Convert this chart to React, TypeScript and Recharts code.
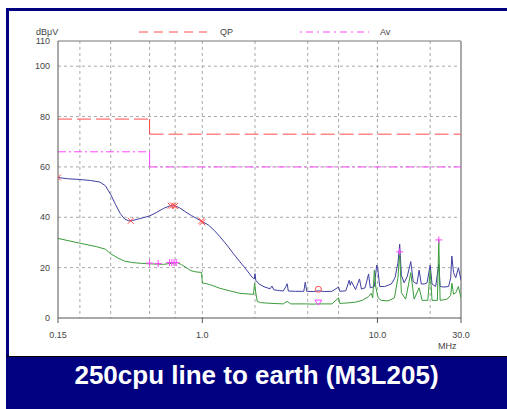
import { ComposedChart, Line, XAxis, YAxis, CartesianGrid, ReferenceLine } from "recharts";

// axis setup
const FREQ_TICKS = [0.15, 1, 10, 30];
const LEVEL_TICKS = [0, 20, 40, 60, 80, 100, 110];
const GRID_FREQS = [0.2, 0.3, 0.4, 0.5, 0.6, 0.7, 0.8, 0.9, 1, 2, 3, 4, 5, 6, 7, 8, 9, 10, 20];
const GRID_LEVELS = [20, 40, 60, 80, 100];

// limit lines
const QP_LIMIT_FREQS = [0.15, 0.5, 0.5, 30];
const QP_LIMIT_LEVELS = [79, 79, 73, 73];
const AV_LIMIT_FREQS = [0.15, 0.5, 0.5, 30];
const AV_LIMIT_LEVELS = [66, 66, 60, 60];

// peak scan (blue)
const peakFreqs = [
  0.15, 0.17, 0.2, 0.23, 0.26, 0.28, 0.3, 0.32, 0.34, 0.36, 0.38, 0.4, 0.43, 0.47, 0.5, 0.55, 0.6, 0.65, 0.69,
  0.74, 0.8, 0.87, 0.93, 1.0, 1.08, 1.17, 1.26, 1.38, 1.5, 1.64, 1.79, 1.92, 1.98, 2.0, 2.02, 2.1, 2.25, 2.44,
  2.5, 2.56, 2.75, 2.9, 3.0, 3.05, 3.1, 3.4, 3.8, 3.87, 3.95, 4.3, 4.6, 5.0, 5.5, 6.0, 6.1, 6.6, 6.9, 7.0, 7.1,
  7.5, 7.9, 8.1, 8.5, 8.9, 9.1, 9.6, 9.9, 10.05, 10.3, 11.0, 12.0, 12.6, 13.1, 13.4, 13.7, 14.2, 14.8, 15.5, 16.0,
  16.8, 17.3, 17.8, 18.5, 19.2, 20.0, 20.5, 21.5, 22.4, 22.8, 24, 25.5, 26.2, 26.6, 27.2, 28, 29, 30,
];
const peakLevels = [
  55.8, 55.3, 55.0, 54.6, 54.0, 52.5, 49.0, 45.0, 41.5, 39.3, 38.6, 38.7, 39.3, 40.0, 40.5, 42.0, 43.5, 44.5, 44.6,
  43.8, 42.2, 40.6, 39.5, 38.3, 37.0, 34.8, 32.3, 29.0, 25.7, 22.3, 19.1, 16.3, 15.5, 17.6, 15.0, 13.6, 12.4, 11.6,
  12.7, 11.2, 10.9, 10.7, 12.5, 13.6, 10.7, 10.6, 10.6, 14.2, 10.6, 10.5, 10.8, 10.5, 10.6, 12.3, 10.6, 10.8, 15.0,
  13.0, 14.5, 11.3, 15.5, 11.5, 12.0, 17.5, 12.0, 12.5, 21.0, 19.5, 12.5, 12.5, 13.5, 16.0, 22.0, 29.3, 17.0, 14.0,
  16.5, 22.4, 14.5, 13.5, 19.0, 13.5, 13.5, 14.0, 21.0, 13.5, 12.5, 21.3, 12.5, 12.3, 12.5, 16.0, 24.6, 18.0, 16.0,
  20.0, 15.0,
];

// average scan (green)
const avgFreqs = [
  0.15, 0.2, 0.25, 0.28, 0.3, 0.33, 0.36, 0.4, 0.45, 0.5, 0.6, 0.68, 0.72, 0.76, 0.81, 0.86, 0.92, 0.99, 1.0,
  1.1, 1.26, 1.45, 1.64, 1.85, 1.96, 1.99, 2.02, 2.06, 2.15, 2.5, 2.9, 3.05, 3.2, 3.9, 4.3, 4.6, 5.5, 6.0, 6.1,
  6.8, 7.5, 8.2, 8.9, 9.2, 9.4, 9.6, 9.8, 10.1, 10.5, 11.5, 12.5, 13.1, 13.4, 13.7, 14.5, 15.5, 16.2, 17.3, 18,
  19.4, 20.0, 20.5, 22.0, 22.4, 22.8, 25, 26.2, 26.6, 27.2, 28, 29, 30,
];
const avgLevels = [
  31.6, 29.7, 28.3, 27.3, 25.5, 23.8, 22.6, 22.0, 21.7, 21.5, 21.3, 21.8, 22.0, 21.2, 20.0, 18.8, 18.3, 18.1, 14.0,
  13.3, 11.8, 10.7, 9.8, 9.5, 9.4, 13.8, 10.0, 6.6, 6.1, 5.8, 5.6, 6.6, 5.6, 5.6, 5.5, 5.6, 5.6, 8.0, 5.8,
  6.0, 6.3, 7.0, 8.5, 9.8, 8.0, 19.0, 12.0, 8.0, 7.0, 6.8, 8.0, 16.0, 26.0, 10.0, 7.5, 18.0, 7.5, 12.0, 7.0,
  7.0, 19.0, 7.0, 7.0, 31.0, 7.0, 7.5, 9.0, 13.8, 9.5, 10.0, 12.5, 8.0,
];

// markers
const QP_MARK_FREQS = [0.15, 0.39, 0.66, 0.68, 0.7, 0.99, 1.0];
const QP_MARK_LEVELS = [55.8, 38.6, 44.6, 44.7, 44.5, 38.6, 38.0];
const QP_CIRCLE_FREQS = [4.6];
const QP_CIRCLE_LEVELS = [11.4];
const AV_MARK_FREQS = [0.5, 0.56, 0.65, 0.67, 0.69, 0.71, 13.4, 22.4];
const AV_MARK_LEVELS = [21.8, 21.6, 22.0, 22.0, 22.0, 22.0, 26.3, 31.0];
const AV_TRI_FREQS = [4.6];
const AV_TRI_LEVELS = [6.1];

const zip = (fs: number[], vs: number[]) => fs.map((f, i) => ({ f, v: vs[i] }));

const peakData = zip(peakFreqs, peakLevels);
const avgData = zip(avgFreqs, avgLevels);
const qpLow = zip(QP_LIMIT_FREQS.slice(0, 2), QP_LIMIT_LEVELS.slice(0, 2));
const qpStep = zip(QP_LIMIT_FREQS.slice(1, 3), QP_LIMIT_LEVELS.slice(1, 3));
const qpHigh = zip(QP_LIMIT_FREQS.slice(2), QP_LIMIT_LEVELS.slice(2));
const avLow = zip(AV_LIMIT_FREQS.slice(0, 2), AV_LIMIT_LEVELS.slice(0, 2));
const avStep = zip(AV_LIMIT_FREQS.slice(1, 3), AV_LIMIT_LEVELS.slice(1, 3));
const avHigh = zip(AV_LIMIT_FREQS.slice(2), AV_LIMIT_LEVELS.slice(2));

const RED = "#ff4a4a";
const MAGENTA = "#ff44ff";
const BLUE = "#3f3fa2";
const GREEN = "#3a9c3a";
const NAVY = "#000080";
const FONT = "'Liberation Sans', Arial, sans-serif";

const xMark = (p: any) => (
  <path key={p.key ?? p.index} d={`M${p.cx - 3},${p.cy - 3}L${p.cx + 3},${p.cy + 3}M${p.cx - 3},${p.cy + 3}L${p.cx + 3},${p.cy - 3}`} stroke={RED} strokeWidth={1} fill="none" />
);
const circleMark = (p: any) => <circle key={p.key ?? p.index} cx={p.cx} cy={p.cy} r={3} stroke={RED} fill="none" />;
const plusMark = (p: any) => (
  <path key={p.key ?? p.index} d={`M${p.cx - 3.5},${p.cy}L${p.cx + 3.5},${p.cy}M${p.cx},${p.cy - 3.5}L${p.cx},${p.cy + 3.5}`} stroke={MAGENTA} strokeWidth={1} fill="none" />
);
const triMark = (p: any) => (
  <path key={p.key ?? p.index} d={`M${p.cx - 3.5},${p.cy - 2.5}L${p.cx + 3.5},${p.cy - 2.5}L${p.cx},${p.cy + 2.5}Z`} stroke={MAGENTA} fill="none" />
);

const fmtFreq = (f: number) => (f < 1 ? String(f) : f.toFixed(1));

const txt = { position: "absolute" as const, fontFamily: FONT, fontSize: 9, color: "#444", lineHeight: "10px" };

export default function App() {
  return (
    <div style={{ position: "absolute", left: 0, top: 0, width: 507, height: 409, background: "#fff", overflow: "hidden" }}>
      <ComposedChart width={507} height={409} margin={{ top: 41, right: 46, bottom: 71, left: 8 }}>
        <CartesianGrid
          stroke="#a8a8a8"
          strokeDasharray="3 3"
          horizontalValues={GRID_LEVELS}
          verticalValues={GRID_FREQS}
        />
        <XAxis
          dataKey="f"
          type="number"
          scale="log"
          domain={[0.15, 30]}
          ticks={FREQ_TICKS}
          tickFormatter={fmtFreq}
          allowDataOverflow
          height={20}
          stroke="#555"
          tickSize={5}
          tickMargin={9}
          tick={{ fill: "#444", fontSize: 9, fontFamily: FONT }}
        />
        <YAxis
          type="number"
          domain={[0, 110]}
          ticks={LEVEL_TICKS}
          allowDataOverflow
          width={50}
          stroke="#555"
          tickLine={false}
          tickSize={0}
          tickMargin={8}
          tick={{ fill: "#444", fontSize: 9, fontFamily: FONT }}
        />
        <ReferenceLine y={110} stroke="#777" />
        <ReferenceLine x={30} stroke="#aaa" strokeWidth={2} />

        <Line data={qpLow} dataKey="v" stroke={RED} strokeDasharray="14 5" dot={false} isAnimationActive={false} />
        <Line data={qpStep} dataKey="v" stroke={RED} dot={false} isAnimationActive={false} />
        <Line data={qpHigh} dataKey="v" stroke={RED} strokeDasharray="14 5" dot={false} isAnimationActive={false} />
        <Line data={avLow} dataKey="v" stroke={MAGENTA} strokeDasharray="8 3 2 3" dot={false} isAnimationActive={false} />
        <Line data={avStep} dataKey="v" stroke={MAGENTA} dot={false} isAnimationActive={false} />
        <Line data={avHigh} dataKey="v" stroke={MAGENTA} strokeDasharray="8 3 2 3" dot={false} isAnimationActive={false} />

        <Line data={peakData} dataKey="v" type="linear" stroke={BLUE} strokeWidth={1} dot={false} isAnimationActive={false} />
        <Line data={avgData} dataKey="v" type="linear" stroke={GREEN} strokeWidth={1} dot={false} isAnimationActive={false} />

        <Line data={zip(QP_MARK_FREQS, QP_MARK_LEVELS)} dataKey="v" stroke="none" dot={xMark} isAnimationActive={false} />
        <Line data={zip(QP_CIRCLE_FREQS, QP_CIRCLE_LEVELS)} dataKey="v" stroke="none" dot={circleMark} isAnimationActive={false} />
        <Line data={zip(AV_MARK_FREQS, AV_MARK_LEVELS)} dataKey="v" stroke="none" dot={plusMark} isAnimationActive={false} />
        <Line data={zip(AV_TRI_FREQS, AV_TRI_LEVELS)} dataKey="v" stroke="none" dot={triMark} isAnimationActive={false} />
      </ComposedChart>

      {/* legend and unit labels */}
      <div style={{ ...txt, left: 36, top: 27 }}>dBμV</div>
      <svg style={{ position: "absolute", left: 139, top: 28 }} width={70} height={8}>
        <line x1={0} y1={4} x2={68} y2={4} stroke={RED} strokeDasharray="9 6" />
      </svg>
      <div style={{ ...txt, left: 220, top: 27 }}>QP</div>
      <svg style={{ position: "absolute", left: 300, top: 28 }} width={70} height={8}>
        <line x1={0} y1={4} x2={69} y2={4} stroke={MAGENTA} strokeDasharray="2 4 7 4" />
      </svg>
      <div style={{ ...txt, left: 380, top: 27 }}>Av</div>
      <div style={{ ...txt, left: 438, top: 341 }}>MHz</div>

      {/* frame */}
      <div style={{ position: "absolute", left: 6, top: 8, width: 501, height: 3, background: NAVY }} />
      <div style={{ position: "absolute", left: 6, top: 8, width: 3, height: 401, background: NAVY }} />
      <div
        style={{
          position: "absolute",
          left: 6,
          top: 356,
          width: 501,
          height: 53,
          background: NAVY,
          borderTop: "1px solid #000",
          color: "#fff",
          fontFamily: FONT,
          fontWeight: "bold",
          fontSize: 26,
          textAlign: "center",
          lineHeight: "36px",
          boxSizing: "border-box",
        }}
      >
        250cpu line to earth (M3L205)
      </div>
    </div>
  );
}
